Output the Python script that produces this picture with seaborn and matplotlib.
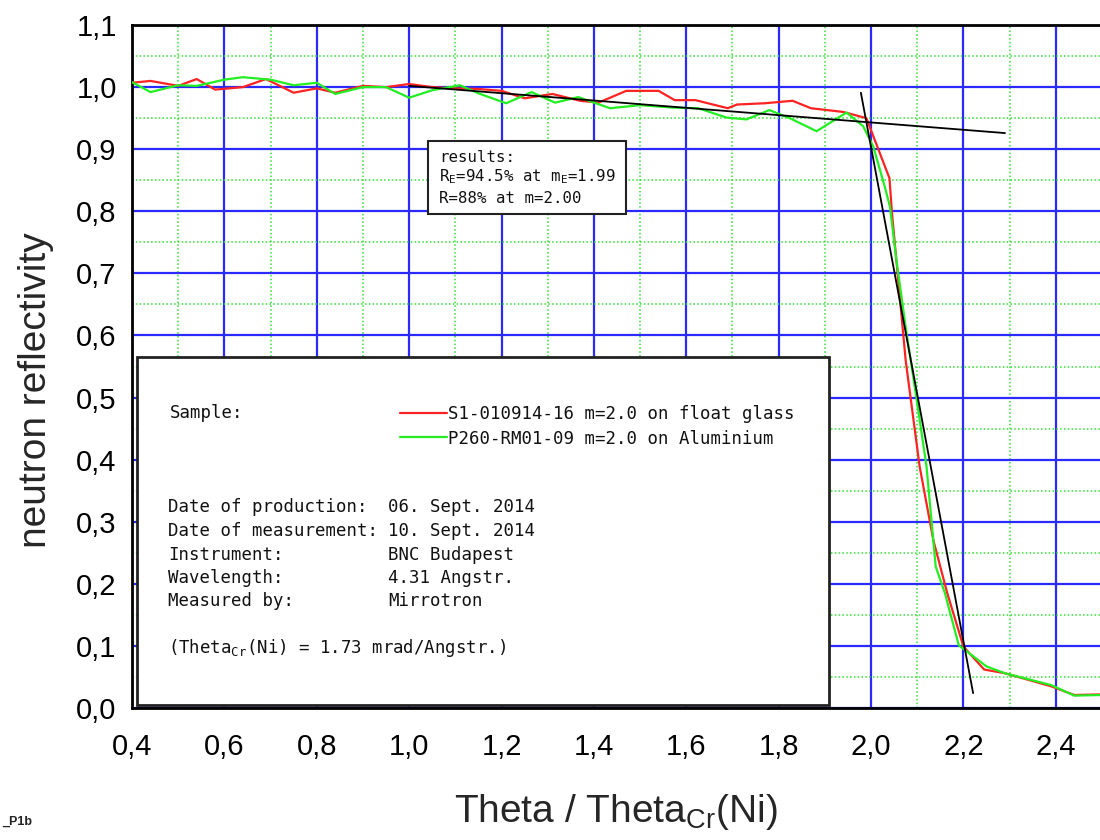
import matplotlib
matplotlib.use("Agg")
import matplotlib.pyplot as plt
import seaborn as sns
from matplotlib.patches import Rectangle
from matplotlib.ticker import MultipleLocator, FuncFormatter

# measured reflectivity curves
red_m = [0.40, 0.44, 0.50, 0.54, 0.58, 0.64, 0.69, 0.75, 0.80, 0.84, 0.90, 0.95,
         1.00, 1.05, 1.10, 1.15, 1.20, 1.25, 1.31, 1.37, 1.41, 1.47, 1.54, 1.575,
         1.62, 1.69, 1.71, 1.77, 1.83, 1.87, 1.94, 1.99, 2.04, 2.045, 2.075, 2.105,
         2.135, 2.165, 2.20, 2.245, 2.29, 2.39, 2.44, 2.50]
red_r = [1.007, 1.010, 1.002, 1.013, 0.996, 1.000, 1.013, 0.991, 0.998, 0.991, 1.002, 1.000,
         1.005, 1.000, 0.998, 0.997, 0.994, 0.982, 0.989, 0.978, 0.975, 0.994, 0.994, 0.979,
         0.979, 0.966, 0.972, 0.974, 0.978, 0.966, 0.960, 0.950, 0.853, 0.800, 0.560, 0.390,
         0.270, 0.185, 0.099, 0.062, 0.056, 0.035, 0.021, 0.022]

green_m = [0.40, 0.44, 0.50, 0.54, 0.60, 0.64, 0.70, 0.75, 0.80, 0.84, 0.90, 0.95,
           1.00, 1.05, 1.11, 1.15, 1.21, 1.265, 1.316, 1.366, 1.435, 1.50, 1.572, 1.626,
           1.687, 1.73, 1.78, 1.824, 1.882, 1.947, 1.983, 2.005, 2.03, 2.041, 2.055, 2.077,
           2.098, 2.12, 2.14, 2.16, 2.19, 2.25, 2.29, 2.39, 2.44, 2.50]
green_r = [1.008, 0.992, 1.003, 1.002, 1.012, 1.016, 1.012, 1.003, 1.007, 0.989, 1.000, 1.000,
           0.983, 0.995, 1.003, 0.990, 0.974, 0.992, 0.975, 0.984, 0.966, 0.971, 0.967, 0.966,
           0.951, 0.948, 0.963, 0.950, 0.929, 0.959, 0.937, 0.904, 0.839, 0.807, 0.721, 0.603,
           0.501, 0.390, 0.228, 0.185, 0.101, 0.067, 0.056, 0.037, 0.020, 0.021]

# fitted lines (plateau and edge)
plateau_m = [1.00, 2.29]
plateau_r = [1.002, 0.926]
edge_m = [1.978, 2.221]
edge_r = [0.991, 0.024]

labels = ["S1-010914-16 m=2.0 on float glass", "P260-RM01-09 m=2.0 on Aluminium"]
info_keys = ["Date of production:", "Date of measurement:", "Instrument:",
             "Wavelength:", "Measured by:"]
info_vals = ["06. Sept. 2014", "10. Sept. 2014", "BNC Budapest",
             "4.31 Angstr.", "Mirrotron"]
results = ["results:", r"R$_\mathregular{E}$=94.5% at m$_\mathregular{E}$=1.99",
           "R=88% at m=2.00"]

sns.set_style("white")
plt.rcParams["font.family"] = ["Liberation Sans", "DejaVu Sans"]
mono = "DejaVu Sans Mono"

fig = plt.figure(figsize=(11, 8.4), dpi=100)
ax = fig.add_axes([0.12, 0.1571, 0.8818, 0.8131])

sns.lineplot(x=red_m, y=red_r, ax=ax, color="#ff2222", lw=1.6, sort=False,
             label=labels[0], zorder=4)
sns.lineplot(x=green_m, y=green_r, ax=ax, color="#22ee22", lw=1.6, sort=False,
             label=labels[1], zorder=4)
ax.plot(plateau_m, plateau_r, color="black", lw=1.3, zorder=5)
ax.plot(edge_m, edge_r, color="black", lw=1.3, zorder=5)

ax.set_xlim(0.4, 2.5)
ax.set_ylim(0.0, 1.1)
ax.xaxis.set_major_locator(MultipleLocator(0.2))
ax.xaxis.set_minor_locator(MultipleLocator(0.1))
ax.yaxis.set_major_locator(MultipleLocator(0.1))
ax.yaxis.set_minor_locator(MultipleLocator(0.05))
comma = FuncFormatter(lambda v, p: f"{v:.1f}".replace(".", ","))
ax.xaxis.set_major_formatter(comma)
ax.yaxis.set_major_formatter(comma)

ax.set_axisbelow(True)
ax.grid(which="major", color="#2a2aff", lw=1.6)
ax.grid(which="minor", color="#33e033", lw=1.1, ls=(0, (1, 1.5)))

for s in ["left", "bottom", "top"]:
    ax.spines[s].set_linewidth(2)
    ax.spines[s].set_color("black")
ax.spines["right"].set_visible(False)

ax.tick_params(which="major", direction="inout", length=16, width=2,
               labelsize=21, colors="black")
ax.tick_params(which="minor", direction="inout", length=8, width=1.5)
ax.tick_params(axis="x", which="major", pad=10)
ax.tick_params(axis="y", which="major", pad=3)
ax.tick_params(top=False, right=False, which="both")

ax.set_ylabel("neutron reflectivity", fontsize=28, va="center")
ax.yaxis.set_label_coords(-0.099, 0.466)
ax.set_xlabel(r"Theta / Theta$_\mathregular{Cr}$(Ni)", fontsize=28, va="baseline")
ax.xaxis.set_label_coords(0.499, -0.167)

# results box
ax.add_patch(Rectangle((0.305, 0.7233), 0.204, 0.1069, transform=ax.transAxes,
                       fc="white", ec="#222222", lw=1.5, zorder=6))
for txt, y in zip(results, [0.8067, 0.7775, 0.7453]):
    ax.text(0.3165, y, txt, transform=ax.transAxes, family=mono, fontsize=11.3,
            va="center", ha="left", zorder=7, color="#111111")

# sample / info box
ax.add_patch(Rectangle((0.0052, 0.0044), 0.7134, 0.5095, transform=ax.transAxes,
                       fc="white", ec="#222222", lw=2, zorder=6))
ax.text(0.039, 0.432, "Sample:", transform=ax.transAxes, family=mono,
        fontsize=12.5, va="center", zorder=7, color="#111111")
leg = ax.legend(loc="center left", bbox_to_anchor=(0.276, 0.4126), frameon=False,
                prop={"family": mono, "size": 12.5}, handlelength=2.7,
                handletextpad=0.1, labelspacing=0.38, borderpad=0, borderaxespad=0)
leg.set_zorder(8)
for t in leg.get_texts():
    t.set_color("#111111")

info_y = [0.2943, 0.2592, 0.2240, 0.1903, 0.1567]
for k, v, y in zip(info_keys, info_vals, info_y):
    ax.text(0.037, y, k, transform=ax.transAxes, family=mono, fontsize=12.5,
            va="center", zorder=7, color="#111111")
    ax.text(0.264, y, v, transform=ax.transAxes, family=mono, fontsize=12.5,
            va="center", zorder=7, color="#111111")
ax.text(0.037, 0.0878, r"(Theta$_\mathregular{Cr}$(Ni) = 1.73 mrad/Angstr.)",
        transform=ax.transAxes, family=mono, fontsize=12.5, va="center",
        zorder=7, color="#111111")

fig.text(0.002, 1 - 822 / 840, "_P1b", fontsize=9, fontweight="bold",
         color="#222222", va="center")

fig.savefig("out.png", dpi=100)
